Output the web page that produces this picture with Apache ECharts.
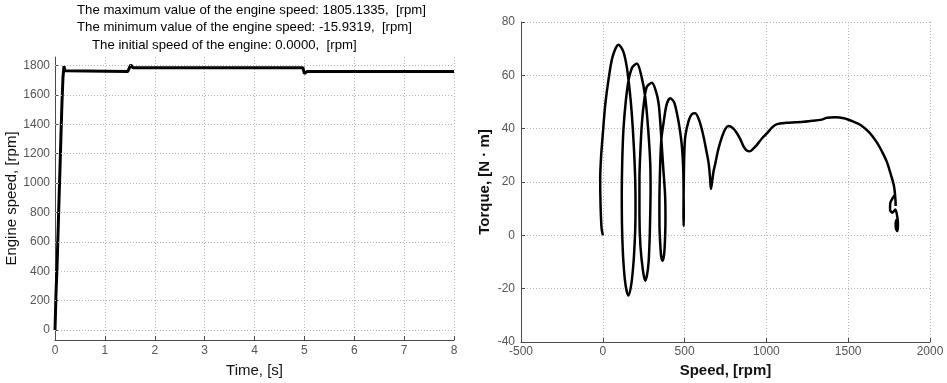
<!DOCTYPE html>
<html lang="en">
<head>
  <meta charset="UTF-8">
  <title>Engine speed and torque</title>
  <style>
    * { margin: 0; padding: 0; }
    #main { width: 947px; height: 383px; background: #fff; }
  </style>
</head>
<body>
  <div id="main"></div>
  <script src="https://cdn.jsdelivr.net/npm/echarts@6/dist/echarts.min.js"></script>
  <script>
    // left plot: engine speed vs time
    const timeS = [0, 0.01, 0.02, 0.04, 0.06, 0.08, 0.1, 0.12, 0.14, 0.16, 0.18, 0.2, 0.22,
      1.46, 1.5, 1.52, 1.56, 4.97, 5.0, 5.02, 5.06, 8.0]
    const engineSpeed = [0, 120, 250, 420, 650, 880, 1100, 1330, 1550, 1720, 1795, 1765, 1760,
      1760, 1790, 1805, 1785, 1785, 1745, 1752, 1760, 1760]
    const timeTicks = [0, 1, 2, 3, 4, 5, 6, 7, 8]
    const speedTicks = [0, 200, 400, 600, 800, 1000, 1200, 1400, 1600, 1800]

    // right plot: torque vs speed (rpm, N·m)
    const speedRpm = [0, -8, -14, -16, -10, 2, 15, 34, 60, 96, 125, 147, 165, 177, 190, 198, 200, 198, 193, 188,
      175, 157, 140, 126, 118, 116, 119, 126, 140, 157, 180, 208, 235, 259, 277, 290, 292, 290, 287, 280,
      270, 259, 245, 230, 224, 224, 230, 239, 252, 269, 300, 325, 341, 353, 361, 371, 381, 383, 381, 375,
      365, 357, 350, 347, 346, 351, 358, 371, 390, 412, 435, 453, 470, 484, 492, 494, 495, 494, 493, 495,
      498, 504, 525, 545, 565, 590, 616, 632, 647, 655, 661, 668, 677, 688, 705, 729, 750, 769, 795, 820,
      841, 861, 880, 898, 920, 943, 975, 1004, 1035, 1065, 1120, 1180, 1228, 1280, 1331, 1371, 1420, 1474,
      1525, 1576, 1630, 1678, 1710, 1739, 1762, 1780, 1788, 1790, 1786, 1772, 1757, 1756, 1770, 1788, 1800,
      1804, 1800, 1792, 1790, 1796]
    const torqueNm = [0, 3, 12, 21, 30, 39.5, 49, 58, 67, 71.5, 69, 63, 54, 45.8, 33, 21, 10, 2, -5, -10,
      -18, -22.6, -19, -10, 2, 14.7, 28, 39.5, 50, 58, 63, 64.4, 60, 52, 40, 27, 17, 8.5, 0, -10,
      -15, -17, -13, -4, 8, 21, 32, 42, 50, 55.7, 57.2, 54, 49.5, 41, 33, 24, 14.7, 6, -0.2, -7,
      -9.5, -8, -2, 2.2, 12, 27, 36, 42, 49, 51.4, 50, 45.8, 40, 33, 24, 14.7, 7, 3.5, 8, 20,
      30, 37, 43, 45.5, 45.8, 43, 37, 32, 27, 22, 17.4, 20, 24, 27, 32, 37, 40, 41, 40.2, 38.3,
      36, 33.3, 31.8, 31.5, 32.5, 34, 36.5, 38.3, 40.5, 41.7, 42.2, 42.4, 42.6, 43, 43.3, 44.1, 44.3, 43.9,
      42.8, 41.4, 38.5, 34.6, 31, 27.1, 22.5, 18.4, 14, 11, 15, 14, 12, 9.5, 8.5, 9.7, 7,
      4, 1.6, 2.5, 4.5, 6]

    const titleLines = [
      'The maximum value of the engine speed: 1805.1335,  [rpm]',
      'The minimum value of the engine speed: -15.9319,  [rpm]',
      'The initial speed of the engine: 0.0000,  [rpm]'
    ]

    const chart = echarts.init(document.getElementById('main'), null, { renderer: 'canvas' })

    const font = 'Liberation Sans, Arial, sans-serif'
    const axisColor = '#4a4a4a'
    const gridColor = '#b4b4b4'
    const plain = v => String(v)

    function tickLabel(extra) {
      return Object.assign({ color: '#555', fontFamily: font, fontSize: 12, formatter: plain }, extra)
    }

    function baseAxis(extra) {
      return Object.assign({
        type: 'value',
        axisLine: { show: true, onZero: false, lineStyle: { color: axisColor, width: 1 } },
        axisTick: { show: true, inside: true, length: 4, lineStyle: { color: axisColor } },
        axisLabel: tickLabel({}),
        splitLine: { show: true, lineStyle: { color: gridColor, type: [1, 2], width: 1 } },
        nameTextStyle: { color: '#111', fontFamily: font, fontSize: 15 }
      }, extra)
    }

    const option = {
      animation: false,
      backgroundColor: '#fff',
      grid: [
        { left: 55, top: 57, width: 399, height: 287 },
        { left: 521, top: 22, width: 409, height: 322 }
      ],
      xAxis: [
        baseAxis({
          gridIndex: 0, min: 0, max: 8, interval: 1,
          name: 'Time, [s]', nameLocation: 'middle', nameGap: 23,
          axisLabel: tickLabel({ margin: 5 })
        }),
        baseAxis({
          gridIndex: 1, min: -500, max: 2000, interval: 500,
          name: 'Speed, [rpm]', nameLocation: 'middle', nameGap: 21,
          axisLabel: tickLabel({ margin: 4 }),
          nameTextStyle: { color: '#111', fontFamily: font, fontSize: 15, fontWeight: 'bold' }
        })
      ],
      yAxis: [
        baseAxis({
          gridIndex: 0, min: -68, max: 1858,
          name: 'Engine speed, [rpm]', nameLocation: 'middle', nameGap: 34,
          axisLabel: tickLabel({ margin: 5, customValues: speedTicks }),
          axisTick: { show: true, inside: true, length: 4, customValues: speedTicks, lineStyle: { color: axisColor } },
          splitLine: { show: false }
        }),
        baseAxis({
          gridIndex: 1, min: -40, max: 80, interval: 20,
          name: 'Torque, [N · m]', nameLocation: 'middle', nameGap: 29,
          axisLabel: tickLabel({ margin: 6 }),
          nameTextStyle: { color: '#111', fontFamily: font, fontSize: 15, fontWeight: 'bold' }
        })
      ],
      graphic: [
        { type: 'text', left: 77, top: 4, style: { text: titleLines[0], fill: '#000', font: '13.2px ' + font } },
        { type: 'text', left: 77, top: 21, style: { text: titleLines[1], fill: '#000', font: '13.2px ' + font } },
        { type: 'text', left: 92, top: 39, style: { text: titleLines[2], fill: '#000', font: '13.2px ' + font } }
      ],
      series: [
        {
          name: 'Engine speed',
          type: 'line',
          xAxisIndex: 0,
          yAxisIndex: 0,
          data: timeS.map((t, i) => [t, engineSpeed[i]]),
          showSymbol: false,
          lineStyle: { color: '#000', width: 3 },
          z: 3,
          markLine: {
            silent: true,
            symbol: 'none',
            label: { show: false },
            lineStyle: { color: gridColor, type: [1, 2], width: 1 },
            data: speedTicks.map(v => ({ yAxis: v }))
          }
        },
        {
          name: 'Torque',
          type: 'line',
          xAxisIndex: 1,
          yAxisIndex: 1,
          data: speedRpm.map((s, i) => [s, torqueNm[i]]),
          showSymbol: false,
          smooth: 0.3,
          lineStyle: { color: '#000', width: 2.5 },
          z: 3
        }
      ]
    }

    chart.setOption(option)
  </script>
</body>
</html>
